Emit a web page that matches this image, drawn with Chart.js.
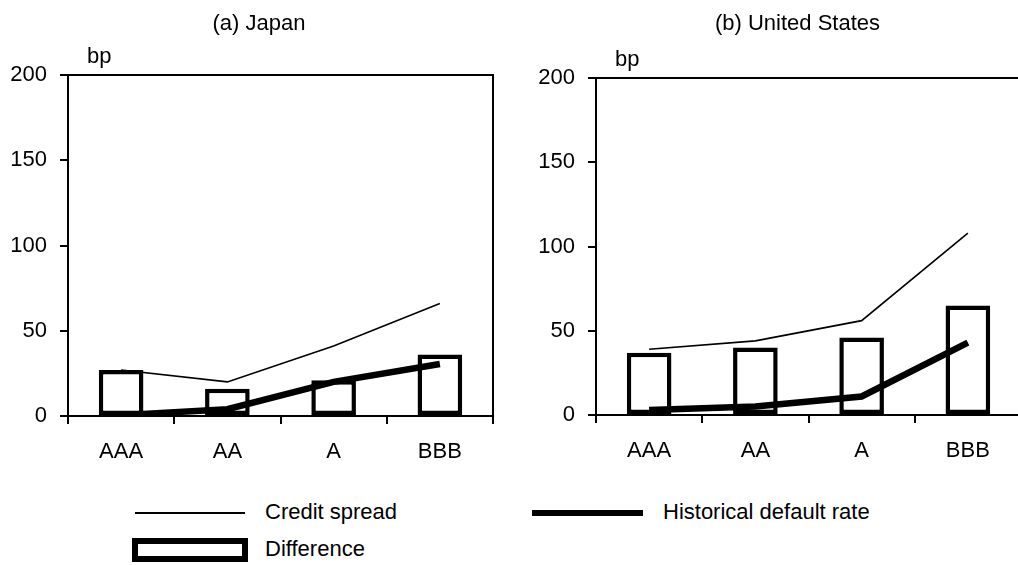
<!DOCTYPE html>
<html>
<head>
<meta charset="utf-8">
<script src="https://cdn.jsdelivr.net/npm/chart.js@4/dist/chart.umd.min.js"></script>
<style>
  html, body { margin: 0; padding: 0; background: #fff; overflow: hidden; width: 1018px; height: 565px; }
  #wrap { position: relative; width: 1018px; height: 565px; overflow: hidden; font-family: "Liberation Sans", Arial, sans-serif; color: #000; }
  .cv { position: absolute; top: 0; }
  .lg { position: absolute; font-size: 22px; line-height: 26px; white-space: nowrap; }
  .sw { position: absolute; background: #000; }
  .box { position: absolute; box-sizing: border-box; border: 6px solid #000; background: #fff; }
</style>
</head>
<body>
<div id="wrap">
  <div class="cv" style="left:0;width:509px;height:490px;"><canvas id="c1" width="509" height="490"></canvas></div>
  <div class="cv" style="left:509px;width:530px;height:490px;"><canvas id="c2" width="530" height="490"></canvas></div>

  <div class="sw" style="left:135px;top:512px;width:110px;height:2px;"></div>
  <div class="lg" style="left:265px;top:499px;">Credit spread</div>
  <div class="sw" style="left:532px;top:510px;width:111px;height:6px;"></div>
  <div class="lg" style="left:663px;top:499px;">Historical default rate</div>
  <div class="box" style="left:132px;top:538px;width:116px;height:24px;"></div>
  <div class="lg" style="left:265px;top:536px;">Difference</div>
</div>
<script>
const categories = ['AAA', 'AA', 'A', 'BBB'];
const titles = ['(a) Japan', '(b) United States'];
const unitLabel = 'bp';
const yTicks = [0, 50, 100, 150, 200];

const japanSpread  = [27, 20, 41, 66];
const japanDefault = [0.5, 4, 20, 30.5];
const japanDiff    = [27, 16, 21, 36];

const usSpread  = [39, 44, 56, 108];
const usDefault = [3, 5, 11, 43];
const usDiff    = [37, 40, 46, 65];

const FONT = '"Liberation Sans", Arial, sans-serif';

const frameAndText = {
  id: 'frameAndText',
  afterDatasetsDraw(chart) {
    const { ctx, chartArea: a } = chart;
    ctx.save();
    ctx.strokeStyle = '#000';
    ctx.lineWidth = 2;
    ctx.strokeRect(a.left, a.top, a.right - a.left, a.bottom - a.top);
    ctx.restore();
  },
  afterDraw(chart, args, opts) {
    const { ctx, chartArea: a } = chart;
    ctx.save();
    ctx.fillStyle = '#000';
    ctx.font = '22px ' + FONT;
    ctx.textBaseline = 'alphabetic';
    ctx.textAlign = 'left';
    ctx.fillText(unitLabel, a.left + opts.dx, a.top - 12);
    ctx.textAlign = 'center';
    ctx.fillText(opts.title, opts.tx, 30);
    ctx.restore();
  }
};

function makeChart(id, title, spread, deflt, diff, geo) {
  return new Chart(document.getElementById(id), {
    type: 'bar',
    data: {
      labels: categories,
      datasets: [
        { type: 'line', label: 'Credit spread', data: spread, borderColor: '#000', borderWidth: 1.6,
          pointRadius: 0, tension: 0, fill: false, order: 3 },
        { type: 'bar', label: 'Difference', data: diff, backgroundColor: '#fff', borderColor: '#000',
          borderWidth: 4.5, borderSkipped: false, barPercentage: 0.42, categoryPercentage: 1, order: 2 },
        { type: 'line', label: 'Historical default rate', data: deflt, borderColor: '#000', borderWidth: 6.5,
          pointRadius: 0, tension: 0, fill: false, borderCapStyle: 'butt', order: 1 }
      ]
    },
    options: {
      responsive: false,
      animation: false,
      layout: { padding: { top: geo.pt, left: 0, right: geo.pr, bottom: 0 } },
      plugins: {
        legend: { display: false },
        tooltip: { enabled: false },
        title: { display: false },
        frameAndText: { dx: geo.bpdx, title: title, tx: geo.tx }
      },
      scales: {
        x: {
          offset: true,
          grid: { display: true, drawOnChartArea: false, drawTicks: true, tickLength: 8, color: '#000', lineWidth: 2, offset: true },
          border: { display: true, color: '#000', width: 2 },
          ticks: { color: '#000', font: { family: FONT, size: 22 }, padding: 15, maxRotation: 0 },
          afterFit(s) { s.height = geo.xh; }
        },
        y: {
          min: 0, max: 200,
          afterBuildTicks(s) { s.ticks = yTicks.map(v => ({ value: v })); },
          grid: { display: true, drawOnChartArea: false, drawTicks: true, tickLength: 8, color: '#000', lineWidth: 2 },
          border: { display: true, color: '#000', width: 2 },
          ticks: { color: '#000', font: { family: FONT, size: 22 }, padding: 13 },
          afterFit(s) { s.width = geo.yw; }
        }
      }
    },
    plugins: [frameAndText]
  });
}

makeChart('c1', titles[0], japanSpread, japanDefault, japanDiff,
  { pt: 75, pr: 16, yw: 68, xh: 74, bpdx: 19, tx: 259 });
makeChart('c2', titles[1], usSpread, usDefault, usDiff,
  { pt: 78, pr: 18, yw: 87, xh: 75, bpdx: 19, tx: 288.5 });
</script>
</body>
</html>
